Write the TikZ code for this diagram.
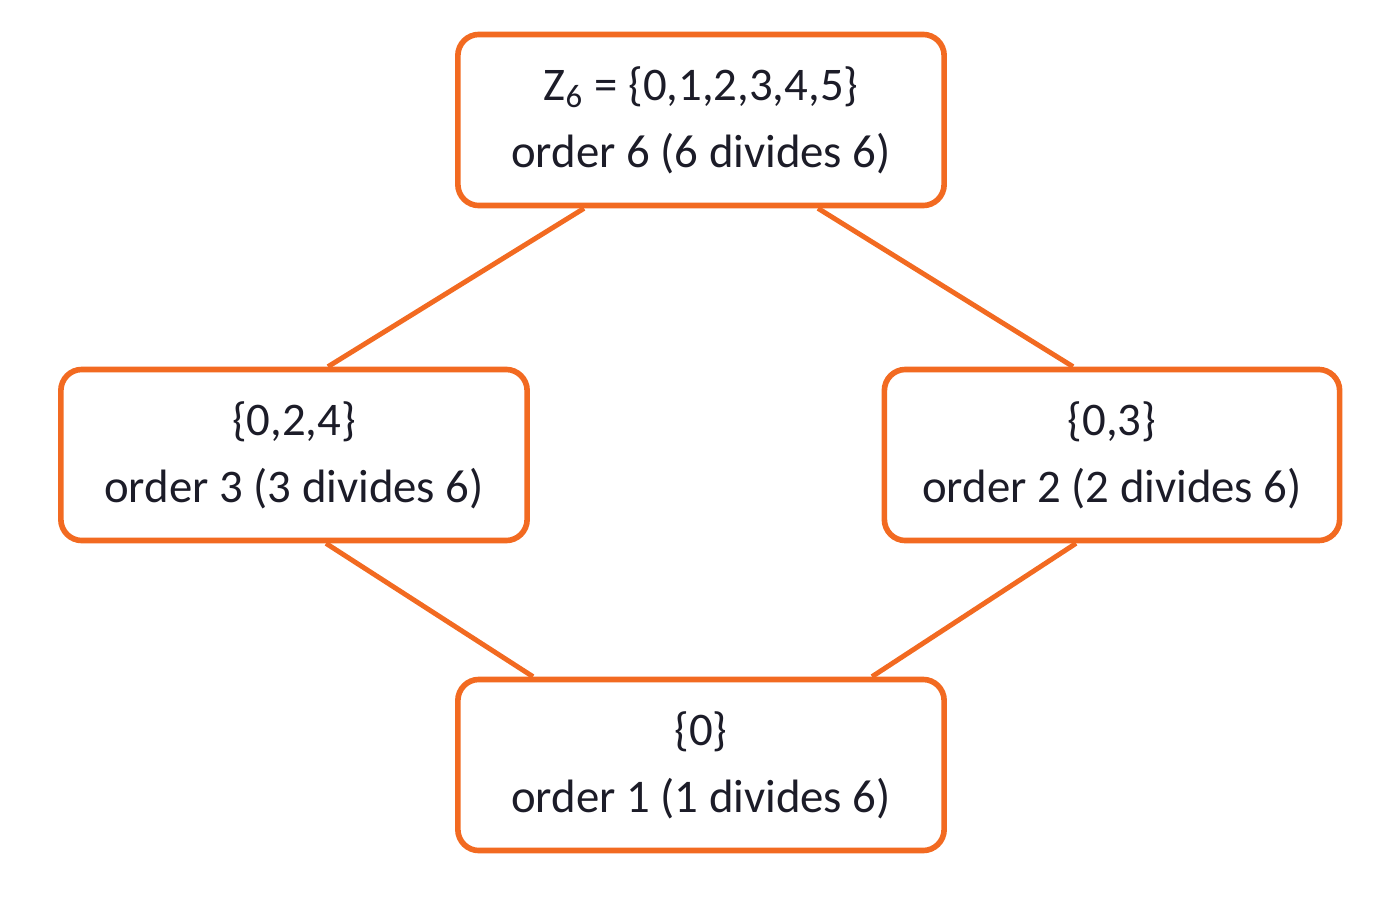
\documentclass[tikz,border=0pt]{standalone}
\usepackage{fontspec}
\setmainfont{Carlito}
\usetikzlibrary{calc,positioning}
\definecolor{boxorange}{HTML}{F26A21}
\definecolor{txt}{HTML}{1C1C28}
\begin{document}
\begin{tikzpicture}[x=0.01cm, y=-0.01cm,
    box/.style={draw=boxorange, line width=1.6pt, rounded corners=6pt, fill=white,
      minimum height=1.71cm, align=center, text=txt, font=\fontsize{13.3}{19}\selectfont},
    link/.style={draw=boxorange, line width=1.4pt}]
    \useasboundingbox (0,0) rectangle (1400,900);
    % subgroup boxes
    \node[box, minimum width=4.86cm] (zsix) at (701,120) {Z\textsubscript{6} = \{0,1,2,3,4,5\}\\order 6 (6 divides 6)};
    \node[box, minimum width=4.66cm] (zthree) at (294,455) {\{0,2,4\}\\order 3 (3 divides 6)};
    \node[box, minimum width=4.55cm] (ztwo) at (1112,455) {\{0,3\}\\order 2 (2 divides 6)};
    \node[box, minimum width=4.86cm] (zone) at (701,765) {\{0\}\\order 1 (1 divides 6)};

    % lattice edges
    \draw[link] ($(zsix.south)+(-117,0)$) -- ($(zthree.north)+(34,0)$);
    \draw[link] ($(zsix.south)+(117,0)$) -- ($(ztwo.north)+(-39,0)$);
    \draw[link] ($(zthree.south)+(32,0)$) -- ($(zone.north)+(-168,0)$);
    \draw[link] ($(ztwo.south)+(-36,0)$) -- ($(zone.north)+(171,0)$);
\end{tikzpicture}
\end{document}
